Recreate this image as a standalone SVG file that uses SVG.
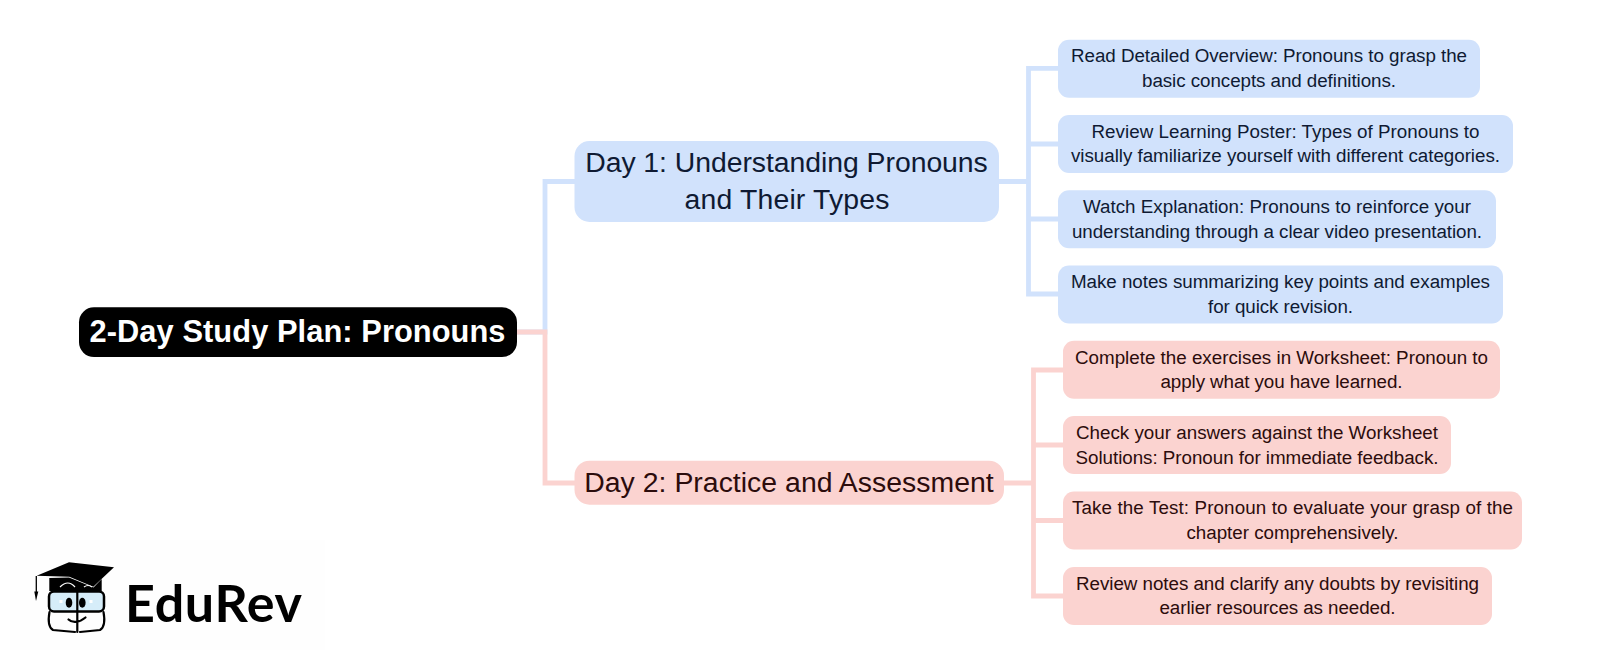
<svg xmlns="http://www.w3.org/2000/svg" width="1601" height="665" viewBox="0 0 1601 665">
<style>
text{font-family:"Liberation Sans",Arial,sans-serif;text-anchor:middle}
.b{fill:#d1e2fc}.r{fill:#fbd3d0}
.cb,.cr{fill:none;stroke-width:4.8}
.cb{stroke:#d1e2fc}.cr{stroke:#fbd3d0}
.lb{font-size:18.8px;fill:#0f1a33}.lr{font-size:18.8px;fill:#2c0c0c}
.mb{font-size:28.4px;fill:#0f1a33}.mr{font-size:28.4px;fill:#2c0c0c}
.ln{fill:none;stroke:#000;stroke-width:2.2;stroke-linecap:round}
</style>
<rect width="1601" height="665" fill="#fff"/>
<rect x="10" y="540" width="315" height="110" fill="#fefefe"/>
<g id="connectors">
<path class="cb" d="M517 332H545V181.500H575"/>
<path class="cr" d="M517 332H545V483H575"/>
<path class="cb" d="M999 181.500H1028.500M1059 68.300H1028.500V294H1059M1028.500 144H1059M1028.500 219H1059"/>
<path class="cr" d="M1004 483H1033.500M1064 370H1033.500V596H1064M1033.500 445H1064M1033.500 520.500H1064"/>
</g>
<g id="root"><rect x="79" y="307.300" width="438" height="49.800" rx="15" fill="#000"/><text x="297.500" y="341.700" font-size="30.800" font-weight="700" fill="#fff" textLength="416">2-Day Study Plan: Pronouns</text></g>
<g id="day1"><rect class="b" x="574.500" y="141" width="424.500" height="81" rx="15"/><text class="mb" x="786.500" y="172.300" textLength="402.600">Day 1: Understanding Pronouns</text><text class="mb" x="787" y="209" textLength="205">and Their Types</text></g>
<g id="day2"><rect class="r" x="574.500" y="460.700" width="429.500" height="44" rx="15"/><text class="mr" x="789" y="492" textLength="409.500">Day 2: Practice and Assessment</text></g>
<g id="b1"><rect class="b" x="1058" y="39.800" width="422" height="58" rx="11"/><text class="lb" x="1269" y="62" textLength="396">Read Detailed Overview: Pronouns to grasp the</text><text class="lb" x="1269" y="87" textLength="254">basic concepts and definitions.</text></g>
<g id="b2"><rect class="b" x="1058" y="115" width="455" height="58" rx="11"/><text class="lb" x="1285.500" y="137.500" textLength="388">Review Learning Poster: Types of Pronouns to</text><text class="lb" x="1285.500" y="162" textLength="429">visually familiarize yourself with different categories.</text></g>
<g id="b3"><rect class="b" x="1058" y="190.300" width="438" height="58" rx="11"/><text class="lb" x="1277" y="213" textLength="388">Watch Explanation: Pronouns to reinforce your</text><text class="lb" x="1277" y="238" textLength="410">understanding through a clear video presentation.</text></g>
<g id="b4"><rect class="b" x="1058" y="265.500" width="445" height="58" rx="11"/><text class="lb" x="1280.500" y="288" textLength="419">Make notes summarizing key points and examples</text><text class="lb" x="1280.500" y="313" textLength="145">for quick revision.</text></g>
<g id="r1"><rect class="r" x="1063" y="340.700" width="437" height="58" rx="11"/><text class="lr" x="1281.500" y="363.500" textLength="413">Complete the exercises in Worksheet: Pronoun to</text><text class="lr" x="1281.500" y="388" textLength="242">apply what you have learned.</text></g>
<g id="r2"><rect class="r" x="1063" y="416" width="388" height="58" rx="11"/><text class="lr" x="1257" y="439" textLength="362">Check your answers against the Worksheet</text><text class="lr" x="1257" y="463.700" textLength="363">Solutions: Pronoun for immediate feedback.</text></g>
<g id="r3"><rect class="r" x="1063" y="491.500" width="459" height="58" rx="11"/><text class="lr" x="1292.500" y="514" textLength="441">Take the Test: Pronoun to evaluate your grasp of the</text><text class="lr" x="1292.500" y="539" textLength="212">chapter comprehensively.</text></g>
<g id="r4"><rect class="r" x="1063" y="567" width="429" height="58" rx="11"/><text class="lr" x="1277.500" y="590" textLength="403">Review notes and clarify any doubts by revisiting</text><text class="lr" x="1277.500" y="614.300" textLength="236">earlier resources as needed.</text></g>
<g id="logo">
<path d="M36.300 576V592" stroke="#000" stroke-width="1.300" fill="none"/>
<path d="M34.300 591.500H38.300L36 601Z" fill="#000"/>
<path d="M36.700 575.700L69 562.300L114 567.300L93.300 586.700L69.300 576.700Z" fill="#000"/>
<path d="M49.300 578L69 577.500L93.500 587.500L101.700 579V591H49.300Z" fill="#000"/>
<path d="M60 587Q68 579 75 587M84 587Q88 584 92 587" fill="none" stroke="#fff" stroke-width="1.200"/>
<rect x="49" y="591.500" width="55" height="20" rx="5" fill="#d6edf9" stroke="#000" stroke-width="2.500"/>
<path class="ln" d="M77.300 591V632M49.500 612C48 620 48 627 53 630L75 632M103.500 612C105 620 105 627 100 630L80 632M68.500 619.500C72 623 79 623 85.500 617.500"/>
<ellipse cx="69" cy="602.700" rx="3.300" ry="5"/><ellipse cx="82.300" cy="602.700" rx="3.300" ry="5"/>
<rect x="59.500" y="600" width="3" height="3" fill="#fff"/><rect x="89.500" y="600" width="3" height="3" fill="#fff"/>
<text x="213.500" y="621.700" font-size="52" font-weight="700" fill="#000" textLength="177" style="font-family:Lato,sans-serif">EduRev</text>
</g>
</svg>
